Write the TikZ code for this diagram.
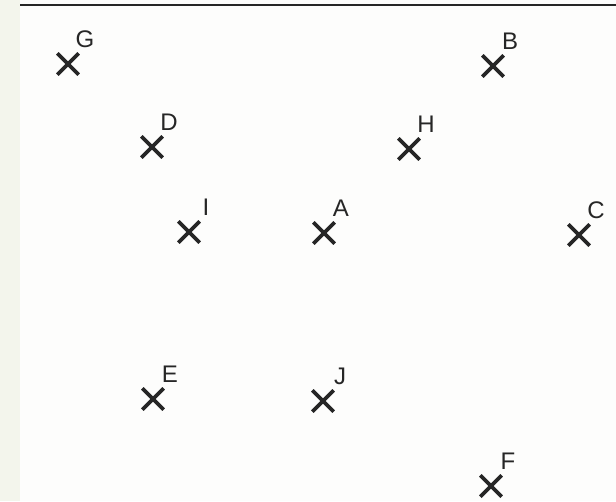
\documentclass[tikz,border=0pt]{standalone}
\usepackage{fontspec}
\setmainfont{Liberation Sans}
\usetikzlibrary{shapes.misc,calc}
\definecolor{strip}{HTML}{F3F5EC}
\definecolor{paper}{HTML}{FDFDFC}
\definecolor{ink}{HTML}{262626}
\tikzset{
  pt/.style={cross out, draw=ink, line width=3.8pt, minimum size=17.5pt, inner sep=0pt},
  lab/.style={text=ink, font=\fontsize{24}{24}\selectfont, anchor=base, inner sep=0pt}
}
\begin{document}
\begin{tikzpicture}[x=1pt,y=-1pt]
\useasboundingbox (0,0) rectangle (616,501);
\fill[paper] (0,0) rectangle (616,501);
\fill[strip] (0,0) rectangle (20,501);
\draw[ink, line width=2pt] (20,5) -- (616,5);
\foreach \n/\x/\y in {G/68/64, B/493/66, D/152/147, H/409/149, I/189/232, A/324/233, C/579/235, E/153/399, J/323/401, F/491/486}{
  \node[pt] (\n) at (\x,\y) {};
  \node[lab] (\n lab) at ($(\n)+(17,-16.5)$) {\n};
}
\end{tikzpicture}
\end{document}
